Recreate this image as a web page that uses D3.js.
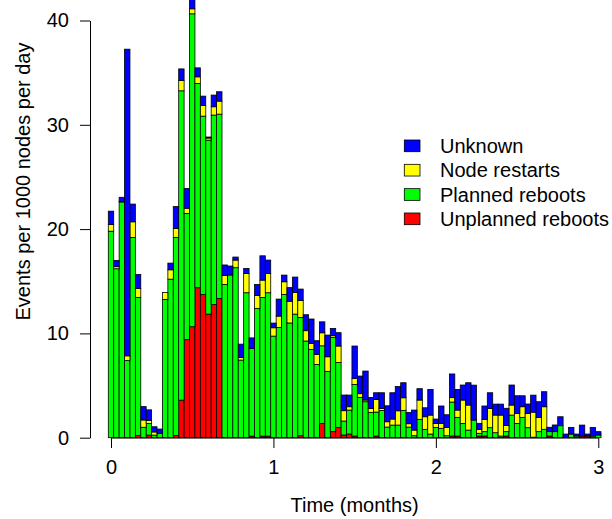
<!DOCTYPE html>
<html>
<head>
<meta charset="utf-8">
<script src="https://cdn.jsdelivr.net/npm/d3@7"></script>
<style>
  body { margin: 0; background: #fff; }
  text { font-family: "Liberation Sans", Arial, Helvetica, sans-serif; }
</style>
</head>
<body>
<script>
// one value per day, 91 days (0 .. 3 months)
var unplanned = [0,0,0,0,0,0.2,0,0.25,0,0, 0,0,0.2,3.6,9.4,10.64,14.38,13.74,11.85,12.78,
  13.35,0,0,0,0,0,0.15,0,0.15,0.15, 0,0,0,0,0,0.19,0,0,0,1.37,
  0,0.58,0.99,0.26,0.35,0.16,0,0,0,0.16, 0,0,0,0,0,0,0,0,0,0,
  0,0,0,0.16,0.16,0,0,0,0.16,0.16, 0,0,0,0.16,0,0,0,0,0,0,
  0,0.16,0,0,0,0,0,0.16,0.16,0, 0];
var planned = [19.8,16.2,22.6,7.4,19.2,13.25,1.0,1.12,0.25,0.4, 13.26,15.2,19.0,29.66,12.1,30.0,19.58,17.09,16.68,18.15,
  17.67,14.7,15.6,16.3,7.44,13.9,8.4,12.4,13.3,13.75, 9.74,10.57,13.74,11.0,11.85,11.34,9.27,8.47,7.03,7.44,
  6.36,9.04,6.23,1.34,2.3,4.95,3.87,3.45,2.43,2.3, 2.62,1.02,1.21,1.21,2.62,1.02,0.19,1.76,0.8,0.35,
  0.99,0.9,0.19,3.26,1.79,1.37,0.73,1.69,0.26,0.42, 0.96,0.48,0.16,0.42,2.17,1.37,1.95,0.96,0.05,0.58,
  0.8,0.42,0.58,1.15,0,0.35,0.16,0,0,0.16, 0.26];
var restarts = [0.64,0.2,0.05,0.45,1.5,0.86,0.7,0.3,0.3,0.03, 0.67,0.9,0.86,1.0,0.5,0.48,0.64,1.02,0.2,0.8,
  1.25,0.86,0,0.73,0.25,1.85,0,1.25,1.66,1.85, 0.8,1.09,1.21,2.08,2.08,1.63,0.99,0.58,0.96,1.25,
  1.4,0.16,1.57,0.99,0.32,0.58,0.35,0.16,0.38,1.21, 0.19,0.51,0.58,1.37,1.21,0.32,0.54,1.85,1.21,1.82,
  0.38,0.48,0.8,0.42,0.7,2.24,2.4,0,0.38,1.18, 1.85,1.69,2.01,0.58,0.96,0.96,1.02,1.37,2.4,1.37,
  2.17,0,0,0,0,0,0,0,0,0, 0];
var unknown = [1.28,0.6,0.4,29.4,1.7,1.34,1.28,1.0,0.5,0.4, 0,0.64,2.1,1.1,1.9,1.0,0.86,0.9,0.1,1.12,
  0.9,1.0,0.86,0.29,1.28,0.48,1.02,1.05,2.33,1.28, 0.45,1.63,0.64,1.31,1.47,1.09,1.53,2.33,1.31,1.05,
  2.08,0.7,1.28,1.5,1.12,3.1,1.69,2.78,1.05,0.64, 1.5,1.53,2.52,2.33,1.44,1.09,1.92,1.09,0.86,2.46,
  0.42,1.66,1.21,2.27,1.98,1.44,2.14,3.35,0.58,1.28, 1.5,1.05,1.05,1.66,1.92,1.69,1.05,0.9,1.63,1.5,
  1.44,0.42,0.64,0.86,0.35,0.64,0.19,1.05,0.19,0.83, 0.32];

var xTicks = [0, 1, 2, 3];
var yTicks = [0, 10, 20, 30, 40];

var keys = ["unplanned", "planned", "restarts", "unknown"];
var labels = ["Unplanned reboots", "Planned reboots", "Node restarts", "Unknown"];
var colors = ["#ff0000", "#00ff00", "#ffff00", "#0000ff"];

var rows = unplanned.map(function(v, i) {
  return {day: i, unplanned: v, planned: planned[i], restarts: restarts[i], unknown: unknown[i]};
});

var svg = d3.select("body")
  .append("svg")
    .attr("width", 612)
    .attr("height", 519);

// months on x, each bar is one day (30 days a month)
var x = d3.scaleLinear()
    .domain([-1 / 60, 91 / 30 - 1 / 60])
    .range([108.3, 601]);

var y = d3.scaleLinear()
    .domain([0, 40])
    .range([437.7, 20.5]);

var color = d3.scaleOrdinal().domain(keys).range(colors);

var stacked = d3.stack().keys(keys)(rows);

svg.append("g")
  .selectAll("g")
    .data(stacked)
  .enter().append("g")
    .attr("fill", function(s) { return color(s.key); })
  .selectAll("rect")
    .data(function(s) { return s.filter(function(d) { return d[1] - d[0] > 0; }); })
  .enter().append("rect")
    .attr("x", function(d) { return x((d.data.day - 0.5) / 30); })
    .attr("width", function(d) { return x((d.data.day + 0.5) / 30) - x((d.data.day - 0.5) / 30); })
    .attr("y", function(d) { return y(d[1]); })
    .attr("height", function(d) { return y(d[0]) - y(d[1]); })
    .attr("stroke", "#000")
    .attr("stroke-width", 0.8);

// y axis
var yAxis = svg.append("g")
    .attr("transform", "translate(90,0)")
    .call(d3.axisLeft(y).tickValues(yTicks).tickSize(10).tickSizeOuter(0).tickPadding(11));
yAxis.selectAll("text").attr("font-size", 20).attr("font-family", null).attr("fill", "#000");
yAxis.selectAll("line, path").attr("stroke", "#000");

// x axis
var xAxis = svg.append("g")
    .attr("transform", "translate(0,438)")
    .call(d3.axisBottom(x).tickValues(xTicks).tickFormat(d3.format("d")).tickSize(10).tickPadding(12));
xAxis.select(".domain").remove();
xAxis.append("line")
    .attr("x1", x(0)).attr("x2", x(3))
    .attr("stroke", "#000");
xAxis.selectAll("text").attr("font-size", 20).attr("font-family", null).attr("fill", "#000");
xAxis.selectAll("line").attr("stroke", "#000");

svg.append("text")
    .attr("x", 354.6)
    .attr("y", 512)
    .attr("text-anchor", "middle")
    .attr("font-size", 20)
    .text("Time (months)");

svg.append("text")
    .attr("transform", "translate(30,181.5) rotate(-90)")
    .attr("text-anchor", "middle")
    .attr("font-size", 20)
    .text("Events per 1000 nodes per day");

// legend, Unknown on top
var legend = svg.append("g")
  .selectAll("g")
    .data(keys.slice().reverse())
  .enter().append("g")
    .attr("transform", function(d, i) { return "translate(404.3," + (145.8 + i * 24.33) + ")"; });

legend.append("rect")
    .attr("x", 0)
    .attr("y", -5.8)
    .attr("width", 15.7)
    .attr("height", 11.7)
    .attr("fill", function(d) { return color(d); })
    .attr("stroke", "#000")
    .attr("stroke-width", 0.8);

legend.append("text")
    .attr("x", 35.7)
    .attr("dy", "0.36em")
    .attr("font-size", 20)
    .text(function(d) { return labels[keys.indexOf(d)]; });
</script>
</body>
</html>
